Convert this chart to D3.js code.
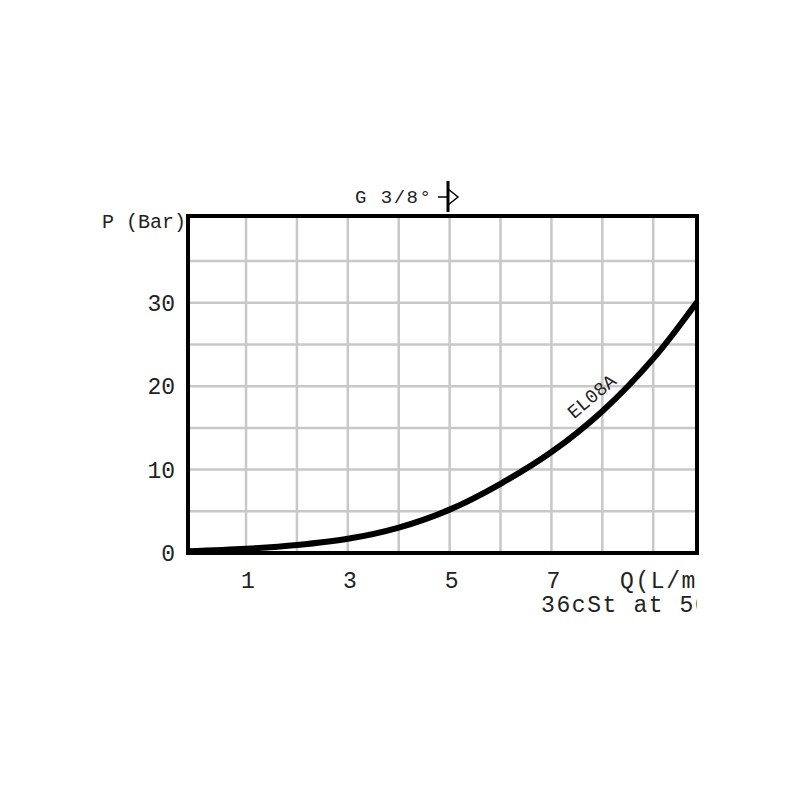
<!DOCTYPE html>
<html>
<head>
<meta charset="utf-8">
<script src="https://cdn.jsdelivr.net/npm/d3@7"></script>
<style>
  body { margin: 0; background: #fff; }
  text { font-family: "Liberation Mono", "Courier New", monospace; fill: #222; }
</style>
</head>
<body>
<svg width="800" height="800"></svg>
<script>
(function() {
'use strict';

// flow Q (L/min) and pressure drop P (bar)
var flow = [-0.14, 1, 2, 3, 4, 5, 6, 7, 8, 9, 9.86];
var pressure = [0.2, 0.5, 0.95, 1.7, 3.05, 5.2, 8.3, 12.1, 17.0, 23.3, 30.1];
var xTicks = [1, 3, 5, 7];
var yTicks = [0, 10, 20, 30];
var xGrid = [1, 2, 3, 4, 5, 6, 7, 8, 9];
var yGrid = [5, 10, 15, 20, 25, 30, 35];
var seriesName = 'EL08A';

var svg = d3.select('svg'),
    plotLeft = 188, plotRight = 697, plotTop = 216, plotBottom = 553;

var x = d3.scaleLinear().domain([-0.14, 9.86]).range([plotLeft, plotRight]);
var y = d3.scaleLinear().domain([0, 40.4]).range([plotBottom, plotTop]);

var data = flow.map(function(q, i) { return {q: q, p: pressure[i]}; });

svg.append('clipPath').attr('id', 'clip-right')
    .append('rect').attr('x', 0).attr('y', 0).attr('width', plotRight).attr('height', 800);

// grid
svg.selectAll('.vgrid').data(xGrid).enter().append('line')
    .attr('x1', function(d) { return x(d); }).attr('x2', function(d) { return x(d); })
    .attr('y1', plotTop).attr('y2', plotBottom)
    .attr('stroke', '#c8c8c8').attr('stroke-width', 2.5);
svg.selectAll('.hgrid').data(yGrid).enter().append('line')
    .attr('x1', plotLeft).attr('x2', plotRight)
    .attr('y1', function(d) { return y(d); }).attr('y2', function(d) { return y(d); })
    .attr('stroke', '#c8c8c8').attr('stroke-width', 2.5);

// curve
var line = d3.line()
    .x(function(d) { return x(d.q); })
    .y(function(d) { return y(d.p); })
    .curve(d3.curveCatmullRom.alpha(0.5));

svg.append('path').datum(data)
    .attr('d', line)
    .attr('fill', 'none')
    .attr('stroke', '#000')
    .attr('stroke-width', 6);

// frame
svg.append('rect')
    .attr('x', plotLeft).attr('y', plotTop)
    .attr('width', plotRight - plotLeft).attr('height', plotBottom - plotTop)
    .attr('fill', 'none').attr('stroke', '#000').attr('stroke-width', 4);

// tick labels
svg.selectAll('.xlab').data(xTicks).enter().append('text')
    .attr('x', function(d) { return x(d) + 2; })
    .attr('y', 588)
    .attr('text-anchor', 'middle')
    .style('font-size', '23px')
    .text(function(d) { return d; });

svg.selectAll('.ylab').data(yTicks).enter().append('text')
    .attr('x', 175)
    .attr('y', function(d) { return y(d) + 8; })
    .attr('text-anchor', 'end')
    .style('font-size', '23px')
    .text(function(d) { return d; });

// axis titles
svg.append('text')
    .attr('x', 186).attr('y', 228)
    .attr('text-anchor', 'end')
    .style('font-size', '20px')
    .text('P (Bar)');

svg.append('text')
    .attr('x', 620).attr('y', 588)
    .attr('clip-path', 'url(#clip-right)')
    .style('font-size', '23px')
    .style('letter-spacing', '1.6px')
    .text('Q(L/min)');

svg.append('text')
    .attr('x', 541).attr('y', 612)
    .attr('clip-path', 'url(#clip-right)')
    .style('font-size', '23px')
    .style('letter-spacing', '1.6px')
    .text('36cSt at 50°C');

// header with fitting symbol
svg.append('text')
    .attr('x', 355).attr('y', 203)
    .style('font-size', '19px')
    .style('letter-spacing', '1.5px')
    .text('G 3/8°');

var sym = svg.append('g').attr('stroke', '#000').attr('fill', 'none');
sym.append('line').attr('x1', 448).attr('x2', 448).attr('y1', 181).attr('y2', 212).attr('stroke-width', 3);
sym.append('line').attr('x1', 438).attr('x2', 448).attr('y1', 197).attr('y2', 197).attr('stroke-width', 1.5);
sym.append('path').attr('d', 'M448,189L458,197L448,205').attr('stroke-width', 1.5);

// series label along the curve
svg.append('text')
    .attr('transform', 'translate(' + x(7.87) + ',' + y(18.2) + ') rotate(-40)')
    .attr('text-anchor', 'middle')
    .style('font-size', '19px')
    .text(seriesName);
})();
</script>
</body>
</html>
